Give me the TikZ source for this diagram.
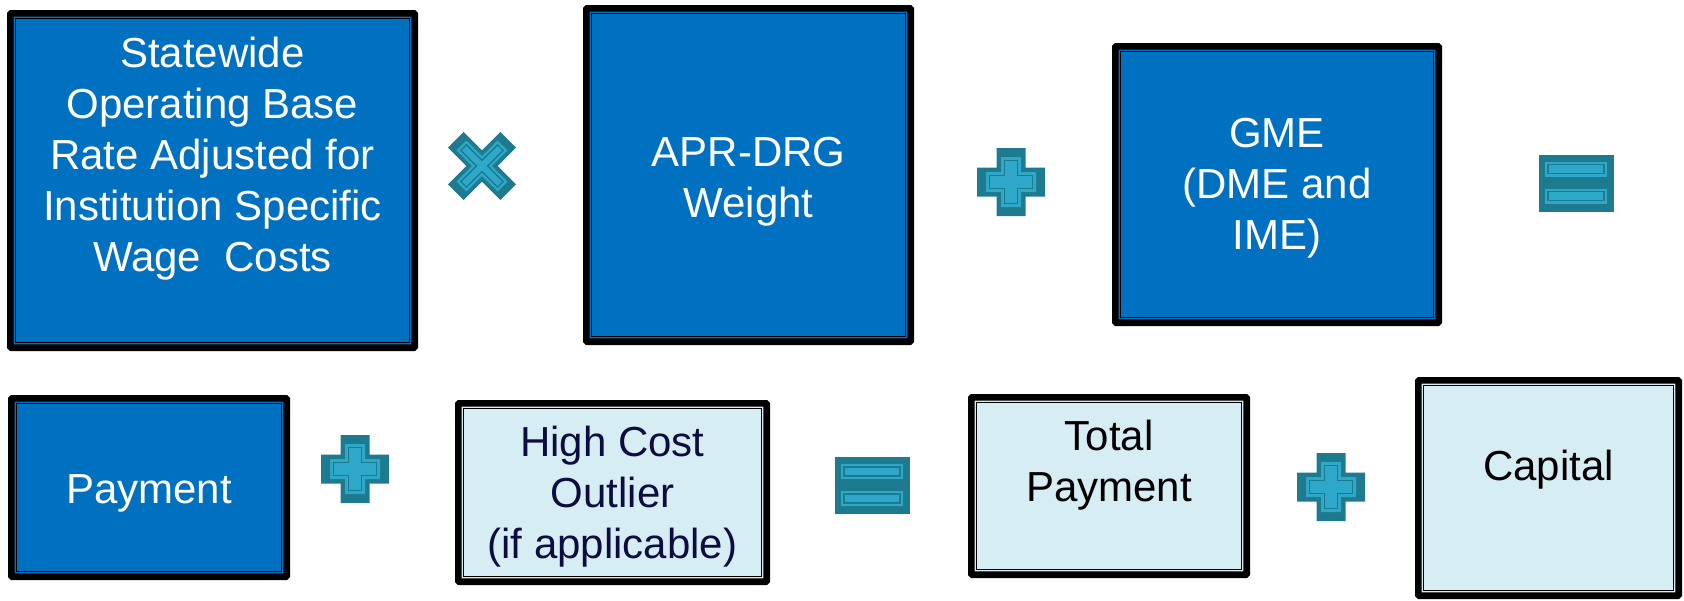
\documentclass[tikz,border=0pt]{standalone}
\usepackage{fontspec}
\setmainfont{Liberation Sans}
\definecolor{boxblue}{RGB}{0,112,192}
\definecolor{boxlight}{RGB}{214,237,244}
\definecolor{opdark}{RGB}{30,122,142}
\definecolor{oplight}{RGB}{46,168,200}
\definecolor{navytext}{RGB}{12,12,64}
\newcommand\crs[2]{(-#1,-#2)--(-#2,-#2)--(-#2,-#1)--(#2,-#1)--(#2,-#2)--(#1,-#2)--(#1,#2)--(#2,#2)--(#2,#1)--(-#2,#1)--(-#2,#2)--(-#1,#2)--cycle}
\newcommand\mkbox[6]{%
  \node[#6, minimum width={#4-#2-6.7}, minimum height={#5-#3-6.7}] (#1) at ({(#2+#4)/2},{(#3+#5)/2}) {};
  \draw[innerline] ([shift={(5,5)}]#1.north west) rectangle ([shift={(-5,-5)}]#1.south east);}
\begin{document}
\begin{tikzpicture}[x=1pt,y=-1pt,
  boxbase/.style={rectangle, draw=black, line width=6.7pt, rounded corners=1pt, inner sep=0pt, outer sep=0pt},
  darkbox/.style={boxbase, fill=boxblue},
  lightbox/.style={boxbase, fill=boxlight},
  innerline/.style={draw=black, line width=1.3pt},
  lbl/.style={anchor=base, inner sep=0pt, font=\fontsize{42}{51}\selectfont},
  opplus/.pic={
    \fill[opdark] \crs{34}{14.5};
    \fill[oplight] \crs{25}{10};
    \draw[opdark, line width=1.3pt] \crs{21.5}{6.5};
  },
  optimes/.pic={
    \begin{scope}[rotate=45]
    \fill[opdark] \crs{37}{11};
    \fill[oplight] \crs{29}{7};
    \draw[opdark, line width=1.3pt] \crs{26}{4};
    \end{scope}
  },
  opeq/.pic={
    \fill[opdark] (-37.5,-28.5) rectangle (37.5,28.5);
    \fill[oplight] (-31,-21.5) rectangle (31,-6.5);
    \draw[opdark, line width=1.3pt] (-28,-18.5) rectangle (28,-9.5);
    \fill[oplight] (-31,5.5) rectangle (31,20.5);
    \draw[opdark, line width=1.3pt] (-28,8.5) rectangle (28,17.5);
  }
]
\useasboundingbox (0,0) rectangle (1684,600);
\fill[white] (0,0) rectangle (1684,600);

\mkbox{b1}{7}{10}{418}{351}{darkbox}
\mkbox{b2}{583}{5}{914}{345}{darkbox}
\mkbox{b3}{1112}{43}{1442}{326}{darkbox}
\mkbox{b4}{8}{395}{290}{580}{darkbox}
\mkbox{b5}{455}{400}{770}{585}{lightbox}
\mkbox{b6}{968}{394}{1250}{578}{lightbox}
\mkbox{b7}{1415}{377}{1682}{599}{lightbox}

\node[lbl, text=white] (t1) at (212.5,67) {\parbox[t]{400pt}{\centering Statewide\\Operating Base\\Rate Adjusted for\\Institution Specific\\Wage~~Costs}};
\node[lbl, text=white] (t2) at (748.5,166) {\parbox[t]{320pt}{\centering APR-DRG\\Weight}};
\node[lbl, text=white] (t3) at (1277,147) {\parbox[t]{320pt}{\centering GME\\(DME and\\IME)}};
\node[lbl, text=white] (t4) at (149,503) {Payment};
\node[lbl, text=navytext] (t5) at (612.5,456) {\parbox[t]{310pt}{\centering High Cost\\Outlier\\(if applicable)}};
\node[lbl, text=black] (t6) at (1109,450) {\parbox[t]{280pt}{\centering Total\\Payment}};
\node[lbl, text=black] (t7) at (1548.5,480) {Capital};

\pic at (482,166) {optimes};
\pic at (1011,182) {opplus};
\pic at (1576,183) {opeq};
\pic at (355,469) {opplus};
\pic at (872,485.5) {opeq};
\pic at (1331,487) {opplus};
\end{tikzpicture}
\end{document}
